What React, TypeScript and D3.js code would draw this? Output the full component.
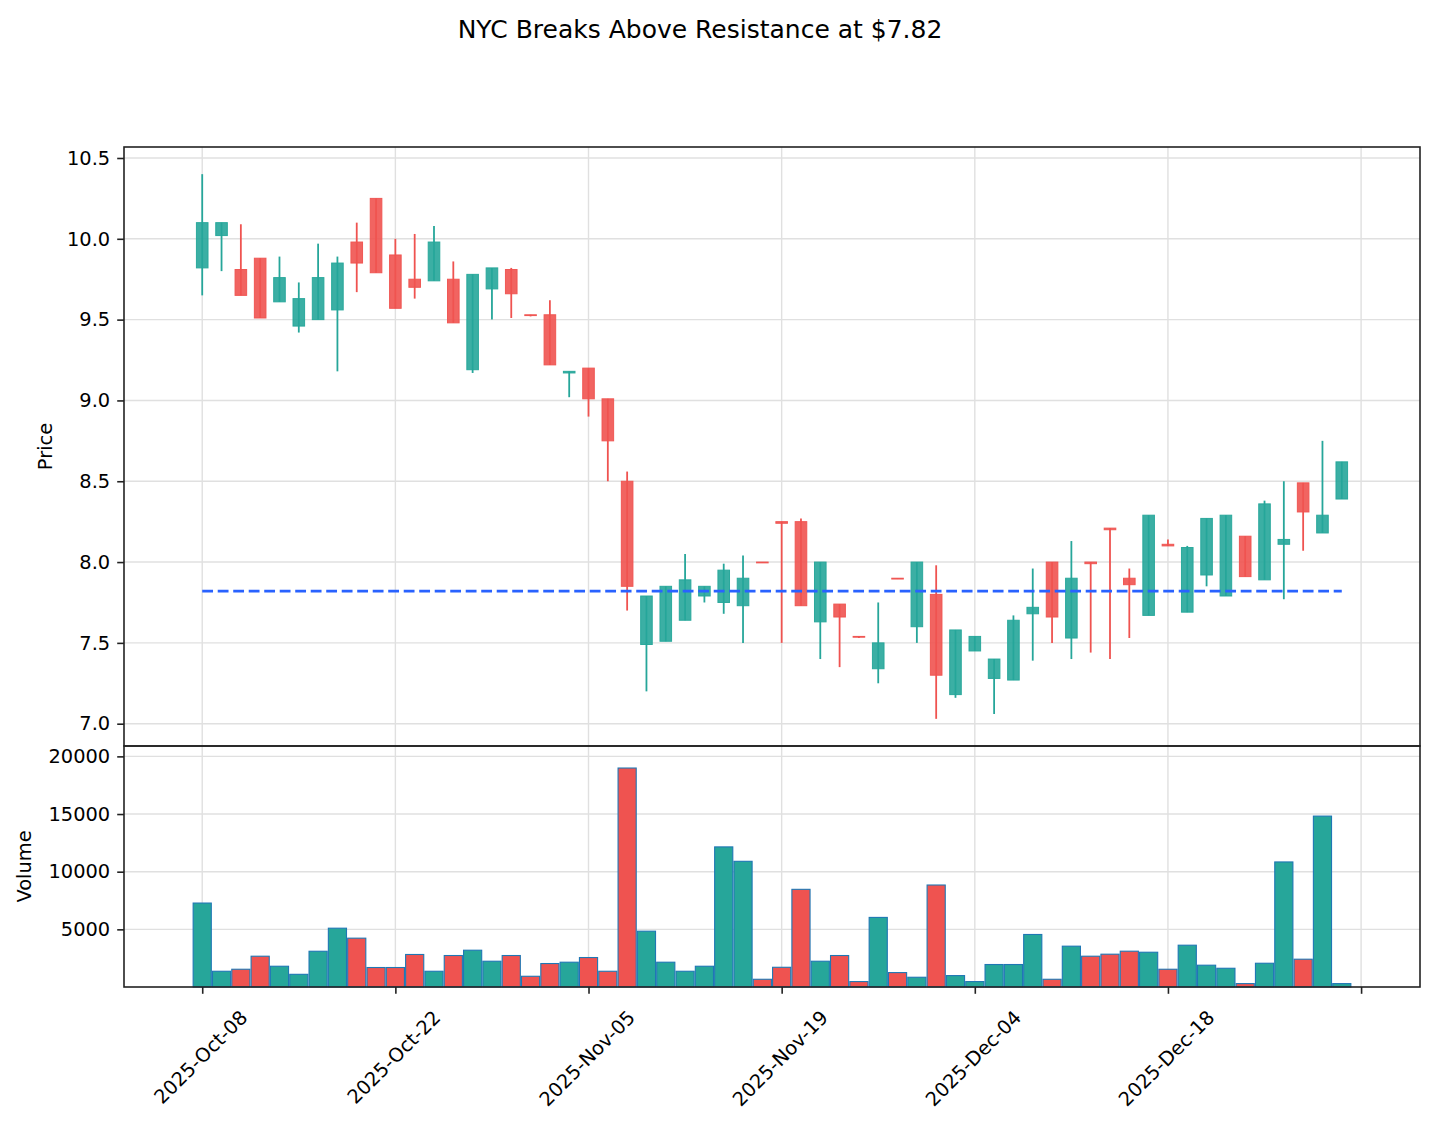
import { useEffect, useRef } from 'react';
import * as d3 from 'd3';

// OHLCV per trading day, index 0 = 2025-Oct-08
const opens = [
  9.82, 10.02, 9.81, 9.88, 9.61, 9.46, 9.5, 9.56, 9.98, 10.25,
  9.9, 9.75, 9.74, 9.75, 9.19, 9.69, 9.81, 9.53, 9.53, 9.17,
  9.2, 9.01, 8.5, 7.49, 7.51, 7.64, 7.79, 7.75, 7.73, 8.0,
  8.25, 8.25, 7.63, 7.74, 7.54, 7.34, 7.9, 7.6, 7.8, 7.18,
  7.45, 7.28, 7.27, 7.68, 8.0, 7.53, 8.0, 8.21, 7.9, 7.67,
  8.11, 7.69, 7.92, 7.79, 8.16, 7.89, 8.11, 8.49, 8.18, 8.39,
];
const highs = [
  10.4, 10.1, 10.09, 9.88, 9.89, 9.73, 9.97, 9.89, 10.1, 10.25,
  10.0, 10.03, 10.08, 9.86, 9.78, 9.82, 9.82, 9.53, 9.62, 9.18,
  9.2, 9.01, 8.56, 7.79, 7.85, 8.05, 7.85, 7.99, 8.04, 8.0,
  8.25, 8.27, 8.0, 7.74, 7.54, 7.75, 7.9, 8.0, 7.98, 7.58,
  7.54, 7.4, 7.67, 7.96, 8.0, 8.13, 8.0, 8.21, 7.96, 8.29,
  8.14, 8.1, 8.27, 8.29, 8.16, 8.38, 8.5, 8.49, 8.75, 8.62,
];
const lows = [
  9.65, 9.8, 9.65, 9.51, 9.61, 9.42, 9.5, 9.18, 9.67, 9.79,
  9.57, 9.63, 9.74, 9.48, 9.17, 9.5, 9.51, 9.52, 9.22, 9.02,
  8.9, 8.5, 7.7, 7.2, 7.51, 7.64, 7.75, 7.68, 7.5, 7.995,
  7.5, 7.73, 7.4, 7.35, 7.53, 7.25, 7.895, 7.5, 7.03, 7.16,
  7.45, 7.06, 7.27, 7.39, 7.5, 7.4, 7.44, 7.4, 7.53, 7.67,
  8.1, 7.69, 7.85, 7.79, 7.91, 7.89, 7.77, 8.07, 8.18, 8.39,
];
const closes = [
  10.1, 10.1, 9.65, 9.51, 9.76, 9.63, 9.76, 9.85, 9.85, 9.79,
  9.57, 9.7, 9.98, 9.48, 9.78, 9.82, 9.66, 9.525, 9.22, 9.18,
  9.01, 8.75, 7.85, 7.79, 7.85, 7.89, 7.85, 7.95, 7.9, 7.995,
  8.24, 7.73, 8.0, 7.66, 7.535, 7.5, 7.895, 8.0, 7.3, 7.58,
  7.54, 7.4, 7.64, 7.72, 7.66, 7.9, 7.99, 8.2, 7.86, 8.29,
  8.1, 8.09, 8.27, 8.29, 7.91, 8.36, 8.14, 8.31, 8.29, 8.62,
];
const volumes = [
  7280, 1365, 1540, 2670, 1800, 1100, 3100, 5100, 4235, 1690,
  1690, 2820, 1365, 2730, 3190, 2235, 2730, 930, 2035, 2150,
  2555, 1365, 18990, 4840, 2150, 1365, 1800, 12150, 10900, 670,
  1710, 8470, 2235, 2730, 470, 6035, 1250, 845, 8845, 990,
  470, 1950, 1950, 4555, 670, 3540, 2670, 2845, 3105, 3015,
  1540, 3625, 1890, 1625, 295, 2060, 10845, 2410, 14820, 295,
];

const xTickIndex = [0, 10, 20, 30, 40, 50, 60];
const xTickLabels = ['2025-Oct-08', '2025-Oct-22', '2025-Nov-05', '2025-Nov-19', '2025-Dec-04', '2025-Dec-18', ''];
const priceTicks = [7.0, 7.5, 8.0, 8.5, 9.0, 9.5, 10.0, 10.5];
const volumeTicks = [5000, 10000, 15000, 20000];
const resistanceLevel = 7.82;
const chartTitle = 'NYC Breaks Above Resistance at $7.82';

const UP = '#26a69a';
const DOWN = '#ef5350';
const FONT = 'DejaVu Sans';

export default function App() {
  const svgRef = useRef<SVGSVGElement>(null);
  const width = 1435;
  const height = 1126;
  const left = 124;
  const right = 1420;
  const priceTop = 147;
  const split = 746;
  const volBottom = 987;

  useEffect(() => {
    if (!svgRef.current) return;
    const svg = d3.select(svgRef.current);
    svg.selectAll('*').remove();

    const n = opens.length;
    const x = d3.scaleLinear().domain([-4.05, n - 1 + 4.05]).range([left, right]);
    const step = x(1) - x(0);
    const yPrice = d3.scaleLinear().domain([6.862, 10.568]).range([split, priceTop]);
    const yVol = d3.scaleLinear().domain([0, 20900]).range([volBottom, split]);

    const g = svg.append('g');

    // Grid lines
    const grid = g.append('g').attr('stroke', '#e0e0e0').attr('stroke-width', 1.4);
    xTickIndex.forEach(i => {
      grid.append('line')
        .attr('x1', x(i)).attr('x2', x(i))
        .attr('y1', priceTop).attr('y2', volBottom);
    });
    priceTicks.forEach(v => {
      grid.append('line')
        .attr('x1', left).attr('x2', right)
        .attr('y1', yPrice(v)).attr('y2', yPrice(v));
    });
    volumeTicks.forEach(v => {
      grid.append('line')
        .attr('x1', left).attr('x2', right)
        .attr('y1', yVol(v)).attr('y2', yVol(v));
    });

    const idx = d3.range(n);
    const colorOf = (i: number) => (closes[i] >= opens[i] ? UP : DOWN);

    // Wicks
    g.append('g').selectAll('line')
      .data(idx)
      .join('line')
      .attr('x1', i => x(i)).attr('x2', i => x(i))
      .attr('y1', i => yPrice(highs[i]))
      .attr('y2', i => yPrice(lows[i]))
      .attr('stroke', colorOf)
      .attr('stroke-width', 1.8);

    // Bodies
    const bw = step * 0.6;
    g.append('g').selectAll('rect')
      .data(idx)
      .join('rect')
      .attr('x', i => x(i) - bw / 2)
      .attr('y', i => yPrice(Math.max(opens[i], closes[i])))
      .attr('width', bw)
      .attr('height', i => Math.max(Math.abs(yPrice(opens[i]) - yPrice(closes[i])), 0.6))
      .attr('fill', colorOf)
      .attr('fill-opacity', 0.9)
      .attr('stroke', colorOf)
      .attr('stroke-opacity', 0.95)
      .attr('stroke-width', 1);

    // Resistance line
    g.append('line')
      .attr('x1', x(0)).attr('x2', x(n - 1))
      .attr('y1', yPrice(resistanceLevel)).attr('y2', yPrice(resistanceLevel))
      .attr('stroke', '#2962ff')
      .attr('stroke-width', 2.9)
      .attr('stroke-dasharray', '10.8,4.7');

    // Volume bars
    const vw = step * 0.94;
    g.append('g').selectAll('rect')
      .data(idx)
      .join('rect')
      .attr('x', i => x(i) - vw / 2)
      .attr('y', i => yVol(volumes[i]))
      .attr('width', vw)
      .attr('height', i => volBottom - yVol(volumes[i]))
      .attr('fill', colorOf)
      .attr('stroke', '#1f77b4')
      .attr('stroke-width', 1.1);

    // Frames
    [[priceTop, split], [split, volBottom]].forEach(([t, b]) => {
      g.append('rect')
        .attr('x', left).attr('y', t)
        .attr('width', right - left).attr('height', b - t)
        .attr('fill', 'none')
        .attr('stroke', '#222')
        .attr('stroke-width', 1.6);
    });

    // Y axes
    const styleAxis = (sel: d3.Selection<SVGGElement, unknown, null, undefined>) => {
      sel.select('.domain').remove();
      sel.selectAll('line').attr('stroke', '#222').attr('stroke-width', 1.6);
      sel.selectAll('text')
        .attr('fill', '#000')
        .style('font-family', FONT)
        .style('font-size', '19.4px');
    };

    g.append('g')
      .attr('transform', `translate(${left},0)`)
      .call(d3.axisLeft(yPrice).tickValues(priceTicks).tickFormat(d3.format('.1f')).tickSize(6.8).tickPadding(7))
      .call(styleAxis);

    g.append('g')
      .attr('transform', `translate(${left},0)`)
      .call(d3.axisLeft(yVol).tickValues(volumeTicks).tickFormat(d3.format('d')).tickSize(6.8).tickPadding(7))
      .call(styleAxis);

    // X axis
    const xAxis = g.append('g')
      .attr('transform', `translate(0,${volBottom})`)
      .call(d3.axisBottom(x).tickValues(xTickIndex).tickFormat((_, i) => xTickLabels[i]).tickSize(6.8))
      .call(styleAxis);

    const fontH = 19.4 * 1.164;
    xAxis.selectAll<SVGTextElement, number>('text').each(function () {
      const t = d3.select(this);
      const len = this.getComputedTextLength();
      const bboxH = (len + fontH) * Math.SQRT1_2;
      t.attr('x', 0).attr('y', 0).attr('dy', '0.35em')
        .attr('text-anchor', 'middle')
        .attr('transform', `translate(-2,${19 + bboxH / 2}) rotate(-45)`);
    });

    // Axis labels
    g.append('text')
      .attr('transform', `translate(45,${(priceTop + split) / 2}) rotate(-90)`)
      .attr('text-anchor', 'middle')
      .attr('dy', '0.35em')
      .style('font-family', FONT)
      .style('font-size', '19.4px')
      .text('Price');

    g.append('text')
      .attr('transform', `translate(24,${(split + volBottom) / 2}) rotate(-90)`)
      .attr('text-anchor', 'middle')
      .attr('dy', '0.35em')
      .style('font-family', FONT)
      .style('font-size', '19.4px')
      .text('Volume');

    // Title
    svg.append('text')
      .attr('x', 700)
      .attr('y', 38)
      .attr('text-anchor', 'middle')
      .style('font-family', FONT)
      .style('font-size', '25px')
      .text(chartTitle);
  }, []);

  return (
    <svg
      ref={svgRef}
      width={width}
      height={height}
      viewBox={`0 0 ${width} ${height}`}
      style={{ position: 'absolute', left: 0, top: 0, background: '#fff', display: 'block' }}
    />
  );
}
